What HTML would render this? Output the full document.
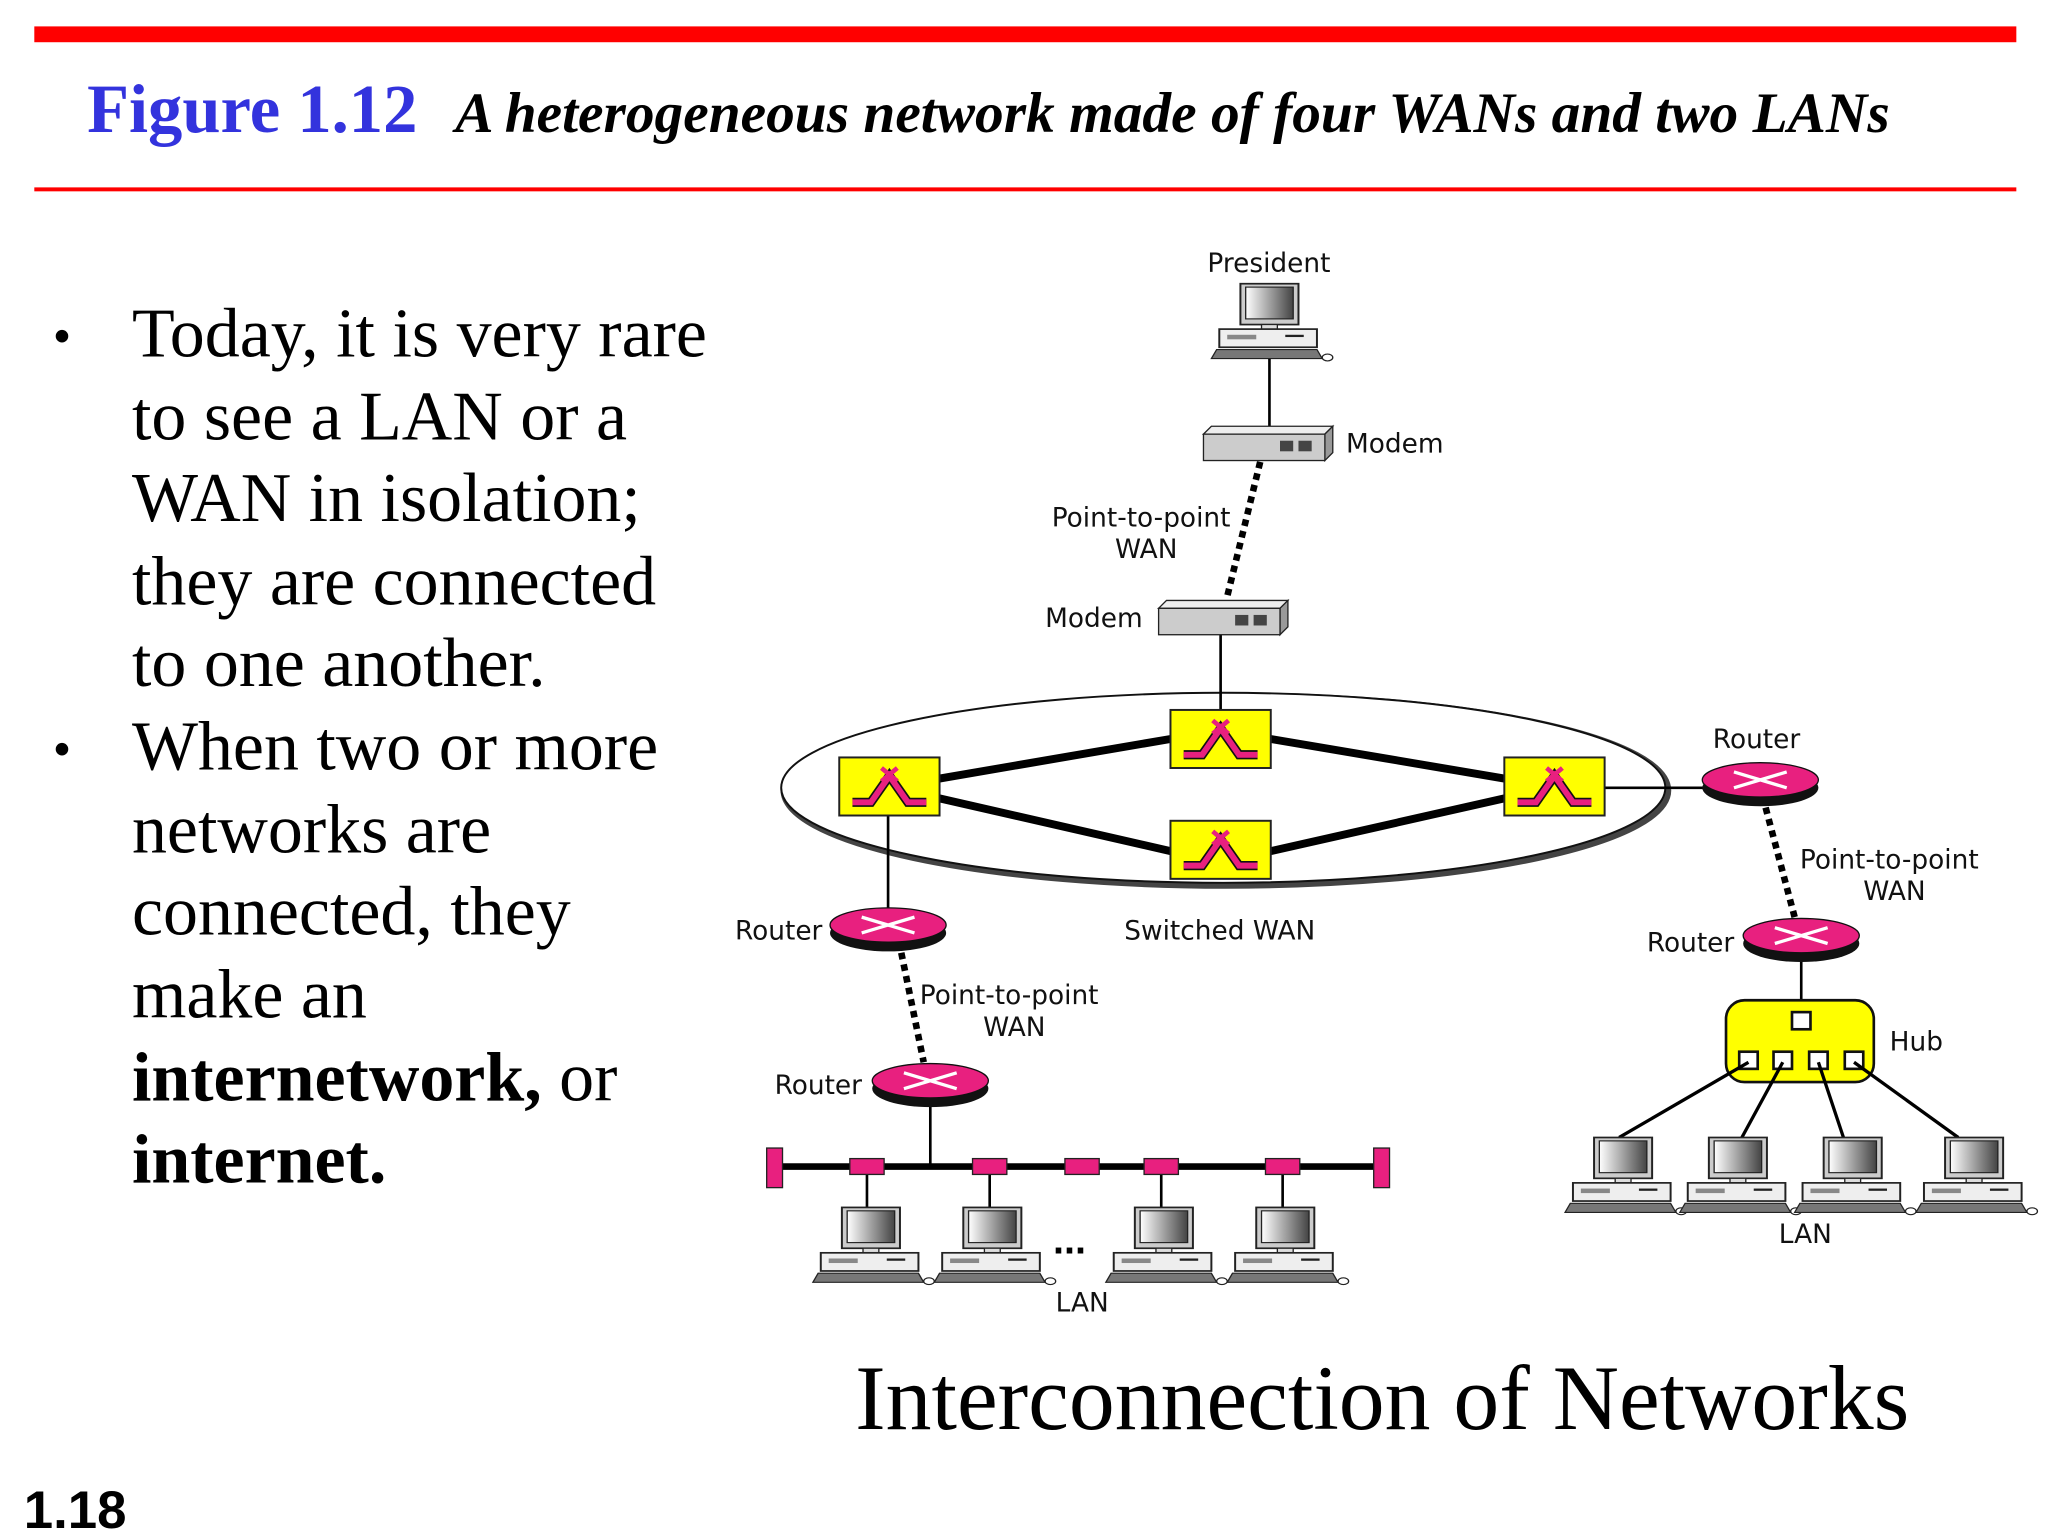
<!DOCTYPE html>
<html><head><meta charset="utf-8"><style>
html,body{margin:0;padding:0;background:#fff}
svg{display:block}
.s{font-family:"DejaVu Sans","Liberation Sans",sans-serif;font-size:20px;fill:#111}
.b{font-family:"Liberation Serif",serif;font-size:53px;fill:#000}
</style></head><body>
<svg width="2048" height="1536" viewBox="0 0 1552 1164" xmlns="http://www.w3.org/2000/svg">
<defs>
<linearGradient id="g" x1="0" x2="1"><stop offset="0" stop-color="#fff"/><stop offset="1" stop-color="#444"/></linearGradient>
<g id="pc0">
<rect x="-20" y="0" width="44" height="36" fill="#ccc" stroke="#222" stroke-width="1.5"/>
<rect x="-16" y="3" width="36" height="28" fill="url(#g)" stroke="#222"/>
<rect x="-4" y="36" width="12" height="4" fill="#ddd" stroke="#222"/>
<rect x="-36" y="40" width="74" height="16" fill="#eee" stroke="#222" stroke-width="1.5"/>
<rect x="-30" y="45" width="22" height="4" fill="#888"/>
<rect x="14" y="45" width="14" height="2" fill="#222"/>
<polygon points="-38,58 38,58 42,66 -42,66" fill="#777" stroke="#222"/>
<ellipse cx="46" cy="65" rx="4" ry="3" fill="#fff" stroke="#222"/>
</g>
<g id="pc"><use href="#pc0" transform="scale(1,0.86)"/></g>
<g id="rt">
<ellipse cx="0" cy="6" rx="44" ry="14" fill="#111"/>
<ellipse cx="0" cy="0" rx="44" ry="13" fill="#e8207f" stroke="#111"/>
<path d="M-20,-6 L20,6 M-20,6 L20,-6" stroke="#fff" stroke-width="2.5"/>
</g>
<g id="sw">
<rect x="0" y="0" width="76" height="44" fill="#ff0" stroke="#222" stroke-width="1.5"/>
<path d="M10,34 L24,34 L38,14 L52,34 L66,34" fill="none" stroke="#111" stroke-width="7"/>
<path d="M10,34 L24,34 L38,14 L52,34 L66,34" fill="none" stroke="#e8207f" stroke-width="4.5"/>
<path d="M32,8 L44,18 M44,8 L32,18" stroke="#e8207f" stroke-width="3.5"/>
</g>
<g id="md">
<polygon points="0,6 6,0 98,0 92,6" fill="#eee" stroke="#222"/>
<polygon points="92,6 98,0 98,20 92,26" fill="#999" stroke="#222"/>
<rect x="0" y="6" width="92" height="20" fill="#ccc" stroke="#222"/>
<rect x="58" y="11" width="10" height="8" fill="#444"/><rect x="72" y="11" width="10" height="8" fill="#444"/>
</g>
</defs>
<rect x="26" y="20" width="1502" height="12" fill="#f00"/>
<rect x="26" y="142" width="1502" height="3" fill="#f00"/>
<text x="66" y="100" font-family="Liberation Serif,serif" font-size="52" font-weight="bold" fill="#3333dd">Figure 1.12</text>
<text x="345" y="100" font-family="Liberation Serif,serif" font-size="43.5" font-weight="bold" font-style="italic" fill="#000">A heterogeneous network made of four WANs and two LANs</text>
<g class="b">
<text x="40" y="268" font-size="40">•</text>
<text x="100" y="270">Today, it is very rare</text>
<text x="100" y="333">to see a LAN or a</text>
<text x="100" y="395">WAN in isolation;</text>
<text x="100" y="458">they are connected</text>
<text x="100" y="520">to one another.</text>
<text x="40" y="581" font-size="40">•</text>
<text x="100" y="583">When two or more</text>
<text x="100" y="646">networks are</text>
<text x="100" y="708">connected, they</text>
<text x="100" y="771">make an</text>
<text x="100" y="834"><tspan font-weight="bold">internetwork,</tspan> or</text>
<text x="100" y="896" font-weight="bold">internet.</text>
</g>
<text x="648" y="1083" font-family="Liberation Serif,serif" font-size="69.5">Interconnection of Networks</text>
<text x="18" y="1158" font-family="Liberation Sans,sans-serif" font-size="40" font-weight="bold">1.18</text>
<ellipse cx="929" cy="599" rx="335" ry="72" fill="none" stroke="#444" stroke-width="5"/>
<ellipse cx="927" cy="597" rx="335" ry="72" fill="#fff" stroke="#111" stroke-width="1.5"/>
<g stroke="#000" stroke-width="6">
<line x1="712" y1="590" x2="887" y2="560"/><line x1="963" y1="560" x2="1140" y2="590"/>
<line x1="712" y1="605" x2="887" y2="645"/><line x1="963" y1="645" x2="1140" y2="605"/>
</g>
<g stroke="#000" stroke-width="2">
<line x1="1216" y1="597" x2="1292" y2="597"/>
<line x1="962" y1="270" x2="962" y2="325"/>
<line x1="925" y1="480" x2="925" y2="538"/>
<line x1="673" y1="618" x2="673" y2="695"/>
<line x1="705" y1="830" x2="705" y2="884"/>
<line x1="1365" y1="722" x2="1365" y2="768"/>
</g>
<g stroke="#000" stroke-width="5" stroke-dasharray="5,4">
<line x1="955" y1="350" x2="930" y2="452"/>
<line x1="1338" y1="612" x2="1360" y2="695"/>
<line x1="683" y1="722" x2="700" y2="805"/>
</g>
<use href="#sw" x="887" y="538"/><use href="#sw" x="636" y="574"/><use href="#sw" x="1140" y="574"/><use href="#sw" x="887" y="622"/>
<use href="#md" x="912" y="323"/><use href="#md" x="878" y="455"/>
<use href="#pc" x="960" y="215"/>
<use href="#rt" x="1334" y="591"/><use href="#rt" x="1365" y="709"/><use href="#rt" x="673" y="701"/><use href="#rt" x="705" y="819"/>
<rect x="1308" y="758" width="112" height="62" rx="14" fill="#ff0" stroke="#111" stroke-width="2"/>
<g fill="#fff" stroke="#111" stroke-width="2">
<rect x="1358" y="767" width="14" height="13"/>
<rect x="1318" y="797" width="14" height="13"/><rect x="1344" y="797" width="14" height="13"/><rect x="1371" y="797" width="14" height="13"/><rect x="1398" y="797" width="14" height="13"/>
</g>
<g stroke="#000" stroke-width="2.5">
<line x1="1325" y1="805" x2="1227" y2="862"/><line x1="1351" y1="805" x2="1320" y2="862"/>
<line x1="1378" y1="805" x2="1397" y2="862"/><line x1="1405" y1="805" x2="1484" y2="862"/>
</g>
<use href="#pc" x="1228" y="862"/><use href="#pc" x="1315" y="862"/><use href="#pc" x="1402" y="862"/><use href="#pc" x="1494" y="862"/>
<line x1="590" y1="884" x2="1045" y2="884" stroke="#000" stroke-width="5"/>
<g stroke="#000" stroke-width="2">
<line x1="657" y1="884" x2="657" y2="915"/><line x1="750" y1="884" x2="750" y2="915"/>
<line x1="880" y1="884" x2="880" y2="915"/><line x1="972" y1="884" x2="972" y2="915"/>
</g>
<g fill="#e8207f" stroke="#222">
<rect x="581" y="870" width="12" height="30"/><rect x="1041" y="870" width="12" height="30"/>
<rect x="644" y="878" width="26" height="12"/><rect x="737" y="878" width="26" height="12"/><rect x="807" y="878" width="26" height="12"/><rect x="867" y="878" width="26" height="12"/><rect x="959" y="878" width="26" height="12"/>
</g>
<use href="#pc" x="658" y="915"/><use href="#pc" x="750" y="915"/><use href="#pc" x="880" y="915"/><use href="#pc" x="972" y="915"/>
<text x="798" y="950" font-family="Liberation Sans,sans-serif" font-size="30" font-weight="bold">...</text>
<g class="s">
<text x="915" y="206">President</text>
<text x="1020" y="343">Modem</text>
<text x="797" y="399">Point-to-point</text><text x="845" y="423">WAN</text>
<text x="792" y="475">Modem</text>
<text x="1298" y="567">Router</text>
<text x="1364" y="658">Point-to-point</text><text x="1412" y="682">WAN</text>
<text x="557" y="712">Router</text>
<text x="852" y="712">Switched WAN</text>
<text x="1248" y="721">Router</text>
<text x="1432" y="796">Hub</text>
<text x="697" y="761">Point-to-point</text><text x="745" y="785">WAN</text>
<text x="587" y="829">Router</text>
<text x="1348" y="942">LAN</text>
<text x="800" y="994">LAN</text>
</g>
</svg>
</body></html>
